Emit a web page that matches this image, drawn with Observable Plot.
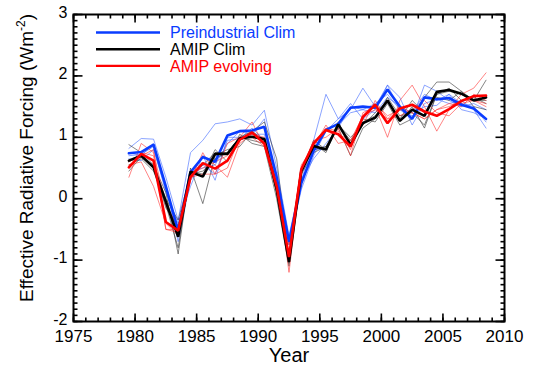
<!DOCTYPE html>
<html><head><meta charset="utf-8">
<script src="https://cdn.jsdelivr.net/npm/d3@7"></script>
<script src="https://cdn.jsdelivr.net/npm/@observablehq/plot@0.6"></script>
<style>body{margin:0;background:#fff}</style>
</head><body><div id="chart"></div>
<script>
// ---- data ----
const years = [1979,1980,1981,1982,1983,1984,1985,1986,1987,1988,1989,1990,1991,1992,1993,1994,1995,1996,1997,1998,1999,2000,2001,2002,2003,2004,2005,2006,2007,2008];
const xTicks = [1975,1980,1985,1990,1995,2000,2005,2010];
const yTicks = [-2,-1,0,1,2,3];
const seriesNames = ["Preindustrial Clim","AMIP Clim","AMIP evolving"];
const seriesColors = ["#0a3cff","#000000","#ff0000"];
const thinColors = ["#3d66ff","#333333","#ff3333"];

const meanPreind  = [0.74,0.76,0.88,0.20,-0.52,0.43,0.68,0.60,1.03,1.10,1.11,1.17,0.35,-0.70,0.25,0.78,1.12,1.22,1.48,1.50,1.48,1.78,1.50,1.30,1.65,1.62,1.64,1.53,1.47,1.30];
const meanAmipClim = [0.62,0.70,0.51,-0.05,-0.62,0.44,0.36,0.73,0.73,0.98,1.01,0.97,0.15,-1.03,0.45,0.86,0.80,1.21,0.88,1.23,1.32,1.60,1.27,1.45,1.35,1.74,1.77,1.71,1.60,1.65];
const meanAmipEvol = [0.51,0.73,0.62,-0.38,-0.52,0.35,0.58,0.49,0.62,0.96,1.08,0.90,0.20,-0.95,0.48,0.90,1.12,1.05,0.85,1.33,1.53,1.23,1.47,1.53,1.42,1.35,1.46,1.59,1.67,1.68];

const membersPreind = [
  [0.82,0.98,0.97,0.35,-0.35,0.75,0.95,1.22,1.25,1.30,1.20,1.44,0.50,-0.60,0.30,0.95,1.70,1.30,1.45,1.80,1.50,1.85,1.45,1.30,1.85,1.75,1.60,1.50,1.55,1.45],
  [0.70,0.72,0.85,0.10,-0.40,0.20,0.70,0.30,1.00,1.00,1.05,1.30,0.20,-0.75,0.15,0.70,1.10,1.30,1.55,1.30,1.45,1.85,1.65,1.20,1.55,1.62,1.55,1.60,1.45,1.15],
  [0.65,0.62,0.80,0.15,-0.60,0.45,0.50,0.55,0.90,1.10,1.05,1.05,0.30,-0.75,0.30,0.65,0.90,1.15,1.50,1.45,1.55,1.70,1.45,1.35,1.50,1.52,1.70,1.45,1.40,1.30],
  [0.75,0.70,0.90,0.20,-0.70,0.30,0.55,0.40,0.95,0.98,1.15,0.95,0.40,-0.65,0.25,0.80,0.80,1.20,1.40,1.45,1.40,1.65,1.50,1.40,1.70,1.60,1.70,1.55,1.50,1.25]
];
const membersAmipClim = [
  [0.88,0.75,0.55,0.10,-0.90,0.50,-0.08,0.70,0.80,0.85,1.10,1.25,0.65,-1.00,0.50,0.90,0.75,1.25,0.85,1.30,1.25,1.55,1.20,1.30,1.65,1.90,1.90,1.75,1.60,1.93],
  [0.55,0.65,0.45,-0.10,-0.80,0.45,0.40,0.80,0.60,1.05,0.90,0.85,0.00,-1.10,0.40,0.75,0.85,1.15,0.70,1.15,1.30,1.65,1.35,1.40,1.20,1.70,1.80,1.60,1.65,1.55],
  [0.60,0.72,0.50,-0.15,-0.45,0.40,0.45,0.65,0.75,1.00,0.95,0.90,0.10,-0.95,0.45,0.95,0.80,1.20,1.00,1.20,1.40,1.60,1.30,1.60,1.40,1.65,1.60,1.75,1.50,1.45],
  [0.45,0.68,0.55,0.00,-0.35,0.40,0.55,0.75,0.75,1.00,1.10,0.95,0.10,-1.05,0.45,0.80,0.85,1.20,0.95,1.25,1.35,1.60,1.25,1.50,1.15,1.70,1.75,1.70,1.60,1.60]
];
const membersAmipEvol = [
  [0.35,0.90,0.75,-0.10,-0.45,0.30,0.75,0.40,0.50,1.00,1.25,0.85,0.30,-1.20,0.45,0.95,1.00,1.15,0.70,1.40,1.50,1.00,1.60,1.85,1.50,1.10,1.45,1.70,1.80,2.05],
  [0.55,0.60,0.20,-0.40,-0.60,0.35,0.70,0.55,0.35,0.90,1.05,1.00,0.15,-0.90,0.55,0.85,1.20,0.90,0.95,1.20,1.60,1.30,1.35,1.45,1.60,1.40,1.35,1.55,1.60,1.55],
  [0.60,0.70,0.80,-0.50,-0.55,0.40,0.50,0.60,0.70,0.95,1.05,0.90,0.20,-1.00,0.40,0.90,1.15,1.10,0.80,1.35,1.45,1.30,1.50,1.40,1.30,1.45,1.55,1.50,1.70,1.60],
  [0.50,0.75,0.70,-0.50,-0.50,0.35,0.40,0.40,0.90,1.00,1.00,0.85,0.15,-0.75,0.50,0.90,1.10,1.05,0.95,1.35,1.55,1.35,1.45,1.40,1.30,1.45,1.50,1.60,1.60,1.50]
];

// ---- build tables (annual values plotted at mid-year) ----
const means = [meanPreind, meanAmipClim, meanAmipEvol];
const members = [membersPreind, membersAmipClim, membersAmipEvol];
const toRows = (vals, s, m) => vals.map((v, i) => ({x: years[i] + 0.5, value: v, series: s, member: m}));

const thinMarks = [];
members.forEach((set, s) => set.forEach((vals, m) => {
  thinMarks.push(Plot.line(toRows(vals, s, m), {x: "x", y: "value", stroke: thinColors[s], strokeWidth: 0.8, strokeOpacity: 0.75}));
}));
const thickMarks = means.map((vals, s) =>
  Plot.line(toRows(vals, s, -1), {x: "x", y: "value", stroke: seriesColors[s], strokeWidth: 2.6, strokeLinejoin: "miter"}));

const xMinor = d3.range(1975, 2011, 1);
const yMinor = d3.range(-20, 31, 1).map(d => d / 10);
const fmt = d => String(d);

const W = 535, H = 375, mL = 73, mR = 31, mT = 14, mB = 54;
const yUnitPx = (H - mT - mB) / 5, xUnitPx = (W - mL - mR) / 35;
// tick lengths converted to data units so the ticks are drawn through Plot's scales
const majY = 8 / yUnitPx, minY = 4 / yUnitPx, majX = 9 / xUnitPx, minX = 4 / xUnitPx;
const tickStyle = {stroke: "#000", strokeWidth: 1.6};

const plot = Plot.plot({
  width: W, height: H,
  marginLeft: mL, marginRight: mR, marginTop: mT, marginBottom: mB,
  x: {domain: [1975, 2010]},
  y: {domain: [-2, 3]},
  style: {fontFamily: "'Liberation Sans', Arial, Helvetica, sans-serif", background: "white", color: "black"},
  marks: [
    ...thinMarks,
    ...thickMarks,
    Plot.frame({stroke: "#000", strokeWidth: 2}),
    // inward ticks (bottom, top, left, right)
    Plot.link(xMinor, {x1: d => d, x2: d => d, y1: -2, y2: -2 + minY, ...tickStyle}),
    Plot.link(xMinor, {x1: d => d, x2: d => d, y1: 3, y2: 3 - minY, ...tickStyle}),
    Plot.link(xTicks, {x1: d => d, x2: d => d, y1: -2, y2: -2 + majY, ...tickStyle}),
    Plot.link(xTicks, {x1: d => d, x2: d => d, y1: 3, y2: 3 - majY, ...tickStyle}),
    Plot.link(yMinor, {y1: d => d, y2: d => d, x1: 1975, x2: 1975 + minX, ...tickStyle}),
    Plot.link(yMinor, {y1: d => d, y2: d => d, x1: 2010, x2: 2010 - minX, ...tickStyle}),
    Plot.link(yTicks, {y1: d => d, y2: d => d, x1: 1975, x2: 1975 + majX, ...tickStyle}),
    Plot.link(yTicks, {y1: d => d, y2: d => d, x1: 2010, x2: 2010 - majX, ...tickStyle}),
    Plot.axisX(xTicks, {anchor: "bottom", tickSize: 0, tickPadding: 8, tickFormat: fmt, fontSize: 17, label: null, fill: "black"}),
    Plot.axisY(yTicks, {anchor: "left", tickSize: 0, tickPadding: 6, dy: -2, tickFormat: fmt, fontSize: 16, label: null, fill: "black"})
  ]
});

document.getElementById("chart").appendChild(plot);
const svg = d3.select(plot);

// x-axis title
svg.append("text").attr("x", 289).attr("y", 362).attr("text-anchor", "middle")
  .attr("font-size", 20).attr("fill", "black").text("Year");

// y-axis title with superscript
const yt = svg.append("text").attr("transform", "translate(33,158) rotate(-90)")
  .attr("text-anchor", "middle").attr("font-size", 19).attr("fill", "black");
yt.append("tspan").text("Effective Radiative Forcing (Wm");
yt.append("tspan").attr("font-size", 12).attr("dy", -8).text("-2");
yt.append("tspan").attr("dy", 8).text(")");

// legend
seriesNames.forEach((name, i) => {
  const y = 32.5 + i * 16.7;
  svg.append("line").attr("x1", 96).attr("x2", 160).attr("y1", y).attr("y2", y)
    .attr("stroke", seriesColors[i]).attr("stroke-width", 2.4);
  svg.append("text").attr("x", 170).attr("y", y).attr("dy", "0.36em").attr("text-anchor", "start")
    .attr("font-size", 16).attr("fill", seriesColors[i]).text(name);
});
</script>
</body></html>
